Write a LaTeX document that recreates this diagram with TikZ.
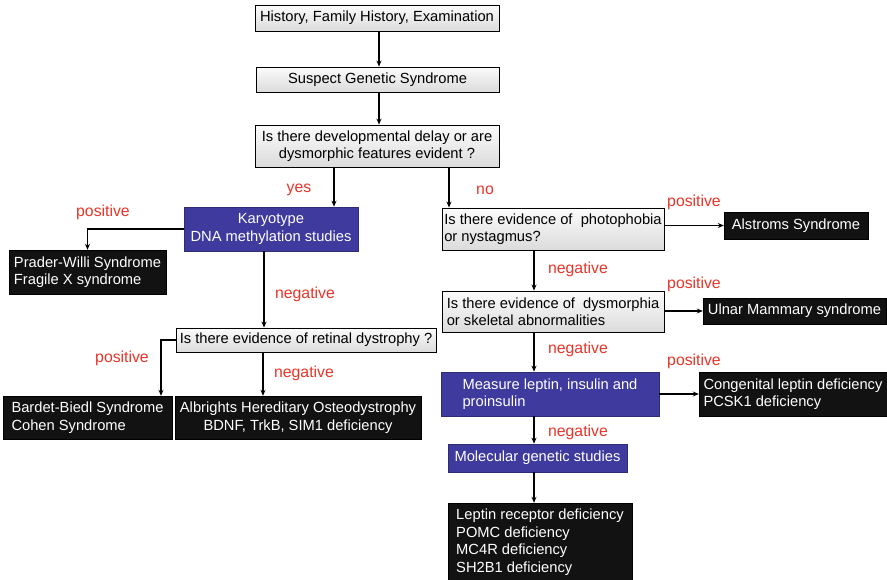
\documentclass[tikz,border=0pt]{standalone}
\usepackage{fontspec}
\setmainfont{Liberation Sans}
\usepackage{xcolor}
\usetikzlibrary{arrows.meta,shadows}

\definecolor{boxblue}{RGB}{62,58,158}
\definecolor{labred}{RGB}{232,52,40}

\tikzset{
  >={Stealth[length=6pt,width=5pt]},
  every node/.style={font=\fontsize{14.7}{17.5}\selectfont, inner sep=0pt},
  graybox/.style={draw=black, line width=0.9pt, top color=gray!3, bottom color=gray!28,
    drop shadow={opacity=0.35, shadow xshift=1.2pt, shadow yshift=-1.2pt}},
  bluebox/.style={draw=boxblue!75!black, line width=0.6pt, fill=boxblue, text=white},
  blackbox/.style={draw=black, fill=black!93, text=white},
  lbl/.style={text=labred, font=\fontsize{15.8}{18}\selectfont},
  conn/.style={->, line width=1.5pt}
}

\begin{document}
\begin{tikzpicture}[x=1pt,y=-1pt]
            \useasboundingbox (0,0) rectangle (887,580);

            \node[graybox,minimum width=244,minimum height=26] (hist) at (377,18) {History, Family History, Examination};
            \node[graybox,minimum width=243,minimum height=25] (suspect) at (377.5,79.5) {Suspect Genetic Syndrome};
            \node[graybox,minimum width=244,minimum height=42,align=center] (delay) at (377,146) {Is there developmental delay or are\\dysmorphic features evident ?};

            \node[bluebox,minimum width=174,minimum height=44,align=center] (karyo) at (271,229) {Karyotype\\DNA methylation studies};
            \node[blackbox,minimum width=157,minimum height=44,align=left] (prader) at (87.5,272) {Prader-Willi Syndrome\\Fragile X syndrome};
            \node[graybox,minimum width=260,minimum height=24] (retinal) at (306,340) {Is there evidence of retinal dystrophy ?};
            \node[blackbox,minimum width=169,minimum height=43,align=left] (bardet) at (87.5,417.5) {Bardet-Biedl Syndrome\\Cohen Syndrome};
            \node[blackbox,minimum width=246,minimum height=43,align=center] (albright) at (298,417.5) {Albrights Hereditary Osteodystrophy\\BDNF, TrkB, SIM1 deficiency};

            \node[graybox,minimum width=222,minimum height=42,align=left] (photo) at (553,229) {Is there evidence of\ \ photophobia\\or nystagmus?};
            \node[blackbox,minimum width=144,minimum height=27] (alstrom) at (796,225.5) {Alstroms Syndrome};
            \node[graybox,minimum width=222,minimum height=41,align=left] (dysm) at (553,311.5) {Is there evidence of\ \ dysmorphia\\or skeletal abnormalities};
            \node[blackbox,minimum width=183,minimum height=26] (ulnar) at (794.5,311) {Ulnar Mammary syndrome};
            \node[bluebox,minimum width=218,minimum height=44,align=left] (measure) at (550,394) {Measure leptin, insulin and\\proinsulin};
            \node[blackbox,minimum width=188,minimum height=44,align=left] (congen) at (793,394) {Congenital leptin deficiency\\PCSK1 deficiency};
            \node[bluebox,minimum width=179,minimum height=28] (molec) at (537.5,458) {Molecular genetic studies};
            \node[blackbox,minimum width=184,minimum height=78,align=left] (leptin) at (540,542) {Leptin receptor deficiency\\POMC deficiency\\MC4R deficiency\\SH2B1 deficiency};

            % labels
            \node[lbl] (yes) at (299,190) {yes};
            \node[lbl] (no) at (485,190) {no};
            \node[lbl] (posA) at (103,212) {positive};
            \node[lbl] (negA) at (305,294) {negative};
            \node[lbl] (posB) at (122,358) {positive};
            \node[lbl] (negB) at (304,373) {negative};
            \node[lbl] (posC) at (694,202) {positive};
            \node[lbl] (negC) at (578,269) {negative};
            \node[lbl] (posD) at (694,284) {positive};
            \node[lbl] (negD) at (578,349) {negative};
            \node[lbl] (posE) at (694,361) {positive};
            \node[lbl] (negE) at (578,432) {negative};

            \draw[conn] ([xshift=2pt]hist.south) -- ([xshift=2pt]hist.south |- suspect.north);
            \draw[conn] ([xshift=1.5pt]suspect.south) -- ([xshift=1.5pt]suspect.south |- delay.north);
            \draw[conn] ([xshift=-43pt]delay.south) -- ([xshift=-43pt]delay.south |- karyo.north);
            \draw[conn] ([xshift=72pt]delay.south) -- ([xshift=72pt]delay.south |- photo.north);
            \draw[conn] (karyo.west) -| (prader.north);
            \draw[conn] ([xshift=-7pt]karyo.south) -- ([xshift=-7pt]karyo.south |- retinal.north);
            \draw[conn] (retinal.west) -| ([xshift=73.5pt]bardet.north);
            \draw[conn] ([xshift=-43pt]retinal.south) -- ([xshift=-43pt]retinal.south |- albright.north);
            \draw[conn] (alstrom.west -| photo.east) -- (alstrom.west);
            \draw[conn] ([xshift=-19pt]photo.south) -- ([xshift=-19pt]photo.south |- dysm.north);
            \draw[conn] (ulnar.west -| dysm.east) -- (ulnar.west);
            \draw[conn] ([xshift=-19pt]dysm.south) -- ([xshift=-19pt]dysm.south |- measure.north);
            \draw[conn] (measure.east) -- (congen.west);
            \draw[conn] ([xshift=-16pt]measure.south) -- ([xshift=-16pt]measure.south |- molec.north);
            \draw[conn] ([xshift=-3.5pt]molec.south) -- ([xshift=-3.5pt]molec.south |- leptin.north);
        \end{tikzpicture}
\end{document}
